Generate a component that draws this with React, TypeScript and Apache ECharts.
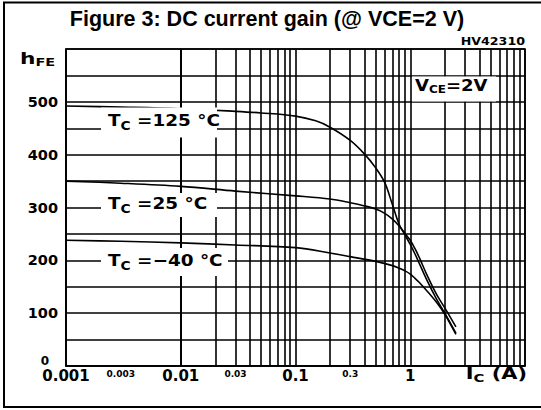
import React, { useEffect, useRef } from 'react';
import * as echarts from 'echarts';

// ---- data ----
const IC_125 = [0.001, 0.003, 0.01, 0.03, 0.05, 0.1, 0.15, 0.2, 0.3, 0.4, 0.5, 0.6, 0.7, 0.8, 0.9, 1.0, 1.1, 1.2, 1.4, 1.7, 2.0, 2.5];
const HFE_125 = [492, 490, 487, 482, 479, 473, 464, 452, 427, 401, 375, 347, 305, 268, 248, 230, 212, 194, 162, 126, 100, 62];

const IC_25 = [0.001, 0.003, 0.01, 0.03, 0.1, 0.2, 0.3, 0.4, 0.5, 0.6, 0.7, 0.8, 0.9, 1.0, 1.1, 1.2, 1.4, 1.7, 2.0, 2.5];
const HFE_25 = [350, 346, 340, 331, 322, 316, 309, 303, 297, 289, 278, 265, 251, 238, 222, 205, 172, 135, 110, 74];

const IC_M40 = [0.001, 0.003, 0.01, 0.03, 0.1, 0.2, 0.3, 0.5, 0.7, 0.8, 0.9, 1.0, 1.1, 1.2, 1.4, 1.7, 2.0, 2.5];
const HFE_M40 = [238, 236, 233, 229, 224, 214, 207, 198, 190, 185, 180, 174, 166, 158, 142, 120, 98, 60];

const X_MAJOR_LABELS = ['0.001', '0.01', '0.1', '1', ''];
const X_MINOR_LINES = [
  0.002, 0.003, 0.004, 0.005, 0.006, 0.007, 0.008, 0.009,
  0.02, 0.03, 0.04, 0.05, 0.06, 0.07, 0.08, 0.09,
  0.2, 0.3, 0.4, 0.5, 0.6, 0.7, 0.8, 0.9,
  2, 3, 4, 5, 6, 7, 8, 9,
];
const X_SMALL_VALUES = [0.003, 0.03, 0.3];
const X_SMALL_TEXTS = ['0.003', '0.03', '0.3'];
const Y_LABELS = [0, 100, 200, 300, 400, 500];

const LABEL_FONT = 'DejaVu Sans';
const BLACK = '#000';
const GRID_W = 1.6;

function toPairs(xs: number[], ys: number[]) {
  return xs.map((x, i) => [x, ys[i]]);
}

function subText(main1: string, sub: string, main2: string, size: number, subSize: number, subDrop: number) {
  return {
    text: `{m|${main1}}{s|${sub}}{m|${main2}}`,
    rich: {
      m: { fontSize: size, fontWeight: 'bold', fontFamily: LABEL_FONT, fill: BLACK, verticalAlign: 'top', lineHeight: size + 4 },
      s: { fontSize: subSize, fontWeight: 'bold', fontFamily: LABEL_FONT, fill: BLACK, verticalAlign: 'top', lineHeight: subSize, padding: [subDrop, 0, 0, 0] },
    },
  };
}

export default function App() {
  const ref = useRef<HTMLDivElement>(null);

  useEffect(() => {
    if (!ref.current) return;
    const chart = echarts.init(ref.current, null, { renderer: 'svg' });

    const curveStyle = { color: BLACK, width: 1.6 };
    const mkCurve = (name: string, xs: number[], ys: number[], extra: any = {}) => ({
      name,
      type: 'line',
      data: toPairs(xs, ys),
      smooth: 0.35,
      showSymbol: false,
      symbol: 'none',
      lineStyle: curveStyle,
      itemStyle: { color: BLACK },
      silent: true,
      z: 5,
      ...extra,
    });

    const option: any = {
      animation: false,
      backgroundColor: '#fff',
      grid: {
        left: 66, right: 16, top: 49, bottom: 44,
        show: true, borderColor: BLACK, borderWidth: GRID_W, backgroundColor: 'transparent',
      },
      xAxis: {
        type: 'log',
        logBase: 10,
        min: 0.001,
        max: 10,
        axisLine: { show: true, lineStyle: { color: BLACK, width: GRID_W } },
        axisTick: { show: false },
        splitLine: { show: true, lineStyle: { color: BLACK, width: GRID_W } },
        axisLabel: {
          color: BLACK,
          fontFamily: LABEL_FONT,
          fontWeight: 'bold',
          fontSize: 15,
          margin: 2,
          formatter: (v: number) => {
            const e = Math.round(Math.log10(v));
            return X_MAJOR_LABELS[e + 3] ?? '';
          },
        },
      },
      yAxis: {
        type: 'value',
        min: 0,
        max: 600,
        interval: 50,
        axisLine: { show: true, lineStyle: { color: BLACK, width: GRID_W } },
        axisTick: { show: false },
        splitLine: { show: true, lineStyle: { color: BLACK, width: GRID_W } },
        axisLabel: {
          color: BLACK,
          fontFamily: LABEL_FONT,
          fontWeight: 'bold',
          fontSize: 14.5,
          margin: 8,
          formatter: (v: number) => {
            if (!Y_LABELS.includes(v)) return '';
            return v === 0 ? '{z|0}' : String(v);
          },
          rich: {
            z: { fontFamily: LABEL_FONT, fontWeight: 'bold', fontSize: 12, lineHeight: 12, color: BLACK, padding: [0, 9, 10, 0] },
          },
        },
      },
      series: [
        mkCurve('Tc=125', IC_125, HFE_125, {
          markLine: {
            silent: true,
            symbol: 'none',
            animation: false,
            lineStyle: { type: 'solid', color: BLACK, width: GRID_W },
            label: { show: false },
            emphasis: { disabled: true },
            data: X_MINOR_LINES.map((v) => ({ xAxis: v })),
          },
        }),
        mkCurve('Tc=25', IC_25, HFE_25),
        mkCurve('Tc=-40', IC_M40, HFE_M40),
      ],
    };

    chart.setOption(option);

    const bottomY = chart.convertToPixel({ yAxisIndex: 0 }, 0) as number;
    const smallLabels = X_SMALL_VALUES.map((v, i) => ({
      type: 'text', z: 50, silent: true,
      x: chart.convertToPixel({ xAxisIndex: 0 }, v) as number,
      y: bottomY + 8,
      style: {
        text: X_SMALL_TEXTS[i], fontFamily: LABEL_FONT, fontWeight: 'bold', fontSize: 9,
        fill: BLACK, align: 'center', verticalAlign: 'middle',
      },
    }));

    chart.setOption({
      graphic: [
        // outer frame
        {
          type: 'rect', z: 50, silent: true,
          shape: { x: 4, y: 2.5, width: 540, height: 404.5 },
          style: { fill: 'none', stroke: BLACK, lineWidth: 2 },
        },
        // title
        {
          type: 'text', z: 50, x: 267, y: 19,
          style: {
            text: 'Figure 3: DC current gain (@ VCE=2 V)',
            fontFamily: 'Liberation Sans', fontWeight: 'bold', fontSize: 21.5,
            fill: BLACK, align: 'center', verticalAlign: 'middle',
          },
        },
        // chart code
        {
          type: 'text', z: 50, x: 525, y: 41, scaleX: 1.15,
          style: {
            text: 'HV42310', fontFamily: LABEL_FONT, fontWeight: 'bold', fontSize: 11,
            fill: BLACK, align: 'right', verticalAlign: 'middle',
          },
        },
        // y axis name h_FE
        {
          type: 'text', z: 50, x: 20, y: 51, scaleX: 1.45,
          style: { ...subText('h', 'FE', '', 15, 10, 6) },
        },
        // x axis name I_C (A)
        {
          type: 'text', z: 50, x: 527, y: 366, scaleX: 1.35,
          style: { ...subText('I', 'C', ' (A)', 15.5, 11, 7), align: 'right' },
        },
        // V_CE = 2V box
        {
          type: 'rect', z: 40, silent: true,
          shape: { x: 412, y: 76.5, width: 84, height: 25 },
          style: { fill: '#fff', stroke: 'none' },
        },
        {
          type: 'text', z: 50, x: 415, y: 79, scaleX: 1.2,
          style: { ...subText('V', 'CE', '=2V', 15, 10, 6) },
        },
        // Tc = 125 box
        {
          type: 'rect', z: 40, silent: true,
          shape: { x: 101, y: 107.5, width: 116, height: 30 },
          style: { fill: '#fff', stroke: 'none' },
        },
        {
          type: 'text', z: 50, x: 108, y: 112, scaleX: 1.15,
          style: { ...subText('T', 'C', ' =125 °C', 16, 12, 8) },
        },
        // Tc = 25 box
        {
          type: 'rect', z: 40, silent: true,
          shape: { x: 101, y: 193, width: 116, height: 24 },
          style: { fill: '#fff', stroke: 'none' },
        },
        {
          type: 'text', z: 50, x: 108, y: 195, scaleX: 1.15,
          style: { ...subText('T', 'C', ' =25 °C', 16, 12, 8) },
        },
        // Tc = -40 box
        {
          type: 'rect', z: 40, silent: true,
          shape: { x: 101, y: 248, width: 127, height: 28 },
          style: { fill: '#fff', stroke: 'none' },
        },
        {
          type: 'text', z: 50, x: 108, y: 252, scaleX: 1.15,
          style: { ...subText('T', 'C', ' =\u221240 °C', 16, 12, 8) },
        },
        ...smallLabels,
      ],
    });

    return () => chart.dispose();
  }, []);

  return (
    <div
      ref={ref}
      style={{ position: 'fixed', left: 0, top: 0, width: 541, height: 410, background: '#fff' }}
    />
  );
}
